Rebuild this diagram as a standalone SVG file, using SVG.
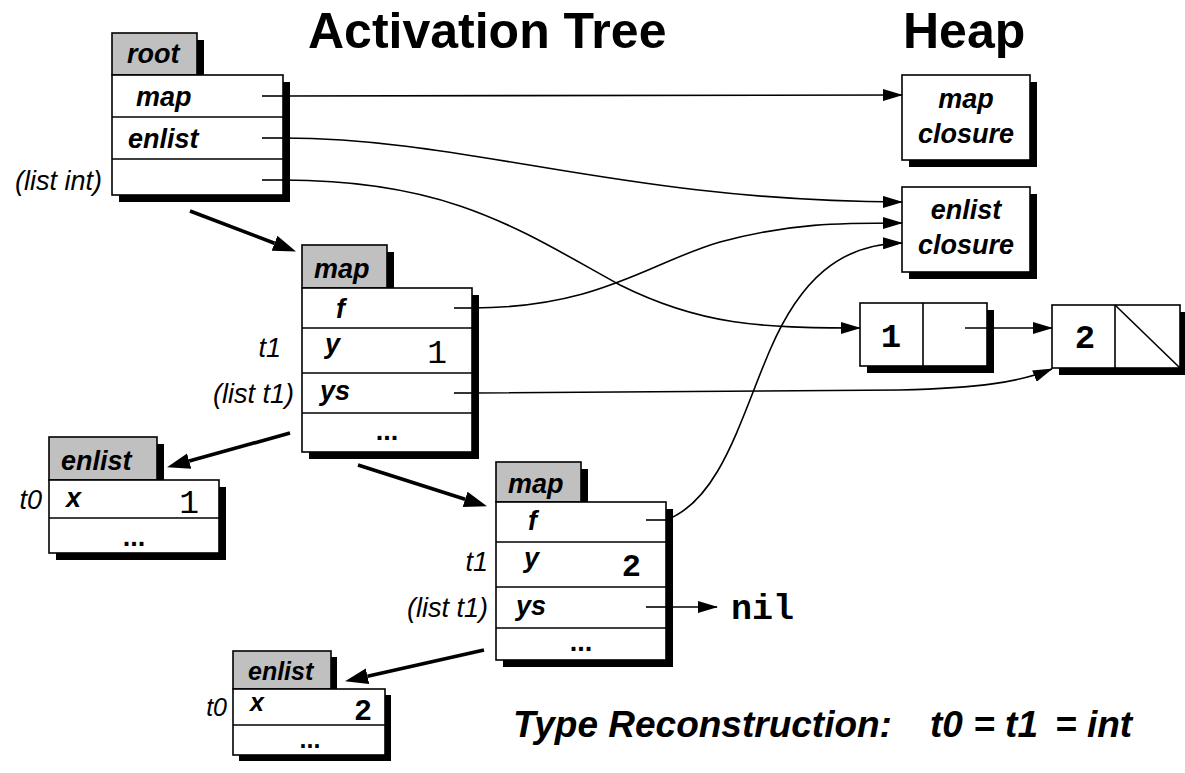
<svg xmlns="http://www.w3.org/2000/svg" width="1185" height="773" viewBox="0 0 1185 773">
<style>
.sh{fill:#000}
.tab{fill:#c0c0c0;stroke:#000;stroke-width:1.6}
.box{fill:#fff;stroke:#000;stroke-width:1.6}
.ln{stroke:#000;stroke-width:1.6;fill:none}
.lbl{font-family:"Liberation Sans",Arial,sans-serif;font-weight:bold;font-style:italic;font-size:27px;fill:#000}
.typ{font-family:"Liberation Sans",Arial,sans-serif;font-style:italic;font-size:27px;fill:#000}
.num{font-family:"Liberation Mono","Courier New",monospace;font-size:33px;fill:#000}
.numb{font-family:"Liberation Mono","Courier New",monospace;font-weight:bold;font-size:32px;fill:#000}
.dots{font-family:"Liberation Sans",Arial,sans-serif;font-weight:bold;font-size:27px;fill:#000}
.title{font-family:"Liberation Sans",Arial,sans-serif;font-weight:bold;font-size:50px;fill:#000}
.foot{font-family:"Liberation Sans",Arial,sans-serif;font-weight:bold;font-style:italic;font-size:37px;fill:#000}
.conn{stroke:#000;stroke-width:1.6;fill:none;marker-end:url(#ah)}
.thick{stroke:#000;stroke-width:3.6;fill:none;marker-end:url(#ahb)}
</style>
<defs>
<marker id="ah" markerUnits="userSpaceOnUse" markerWidth="20" markerHeight="12" viewBox="0 0 20 12" refX="19" refY="6" orient="auto">
<path d="M0,0 L20,6 L0,12 z" fill="#000"/>
</marker>
<marker id="ahb" markerUnits="userSpaceOnUse" markerWidth="24" markerHeight="18" viewBox="0 -9 24 18" refX="0" refY="0" orient="auto">
<path d="M0,-8 L23,0 L0,8 z" fill="#000"/>
</marker>
</defs>
<rect width="1185" height="773" fill="#fff"/>

<text class="title" x="308" y="48">Activation Tree</text>
<text class="title" x="903" y="48">Heap</text>

<g id="root">
<rect class="sh" x="119" y="40" width="85" height="42"/>
<rect class="tab" x="112" y="33" width="85" height="42"/>
<rect class="sh" x="119" y="82" width="171" height="120"/>
<rect class="box" x="112" y="75" width="171" height="120"/>
<line class="ln" x1="112" y1="117" x2="283" y2="117"/>
<line class="ln" x1="112" y1="159" x2="283" y2="159"/>
<text class="lbl" x="127" y="63">root</text>
<text class="lbl" x="136" y="106">map</text>
<text class="lbl" x="128" y="148">enlist</text>
<text class="typ" x="102" y="190" text-anchor="end">(list int)</text>
<line class="ln" x1="262" y1="96" x2="283" y2="96"/>
<line class="ln" x1="262" y1="138" x2="283" y2="138"/>
<line class="ln" x1="262" y1="180" x2="283" y2="180"/>
</g>

<g id="map1">
<rect class="sh" x="309" y="252" width="85" height="43"/>
<rect class="tab" x="302" y="245" width="85" height="43"/>
<rect class="sh" x="309" y="295" width="170" height="164"/>
<rect class="box" x="302" y="288" width="170" height="164"/>
<line class="ln" x1="302" y1="328" x2="472" y2="328"/>
<line class="ln" x1="302" y1="373" x2="472" y2="373"/>
<line class="ln" x1="302" y1="413" x2="472" y2="413"/>
<text class="lbl" x="314" y="278">map</text>
<text class="lbl" x="336" y="318">f</text>
<text class="lbl" x="325" y="353">y</text>
<text class="num" x="447" y="363" text-anchor="end">1</text>
<text class="lbl" x="320" y="400">ys</text>
<text class="dots" x="387" y="440" text-anchor="middle">...</text>
<text class="typ" x="281" y="357" text-anchor="end">t1</text>
<text class="typ" x="294" y="403" text-anchor="end">(list t1)</text>
<line class="ln" x1="454" y1="308" x2="472" y2="308"/>
<line class="ln" x1="454" y1="393" x2="472" y2="393"/>
</g>

<g id="enlist1">
<rect class="sh" x="56" y="444" width="108" height="43"/>
<rect class="tab" x="49" y="437" width="108" height="43"/>
<rect class="sh" x="56" y="487" width="170" height="73"/>
<rect class="box" x="49" y="480" width="170" height="73"/>
<line class="ln" x1="49" y1="518" x2="219" y2="518"/>
<text class="lbl" x="61" y="470">enlist</text>
<text class="lbl" x="66" y="507">x</text>
<text class="num" x="199" y="513" text-anchor="end">1</text>
<text class="dots" x="134" y="546" text-anchor="middle">...</text>
<text class="typ" x="42" y="509" text-anchor="end">t0</text>
</g>

<g id="map2">
<rect class="sh" x="503" y="469" width="85" height="40"/>
<rect class="tab" x="496" y="462" width="85" height="40"/>
<rect class="sh" x="503" y="509" width="170" height="158"/>
<rect class="box" x="496" y="502" width="170" height="158"/>
<line class="ln" x1="496" y1="542" x2="666" y2="542"/>
<line class="ln" x1="496" y1="587" x2="666" y2="587"/>
<line class="ln" x1="496" y1="628" x2="666" y2="628"/>
<text class="lbl" x="508" y="493">map</text>
<text class="lbl" x="528" y="530">f</text>
<text class="lbl" x="524" y="567">y</text>
<text class="numb" x="641" y="576" text-anchor="end">2</text>
<text class="lbl" x="516" y="615">ys</text>
<text class="dots" x="581" y="651" text-anchor="middle">...</text>
<text class="typ" x="488" y="571" text-anchor="end">t1</text>
<text class="typ" x="488" y="617" text-anchor="end">(list t1)</text>
<line class="ln" x1="646" y1="520" x2="666" y2="520"/>
<line class="ln" x1="646" y1="607" x2="666" y2="607"/>
</g>

<g id="nil">
<text class="numb" x="731" y="619" style="font-size:35px">nil</text>
</g>

<g id="enlist2">
<rect class="sh" x="239" y="657" width="98" height="38"/>
<rect class="tab" x="233" y="651" width="98" height="38"/>
<rect class="sh" x="239" y="695" width="152" height="66"/>
<rect class="box" x="233" y="689" width="152" height="66"/>
<line class="ln" x1="233" y1="725" x2="385" y2="725"/>
<text class="lbl" x="248" y="680" style="font-size:25px">enlist</text>
<text class="lbl" x="250" y="711" style="font-size:25px">x</text>
<text class="numb" x="372" y="720" text-anchor="end" style="font-size:30px">2</text>
<text class="dots" x="310" y="748" text-anchor="middle" style="font-size:25px">...</text>
<text class="typ" x="227" y="716" text-anchor="end" style="font-size:25px">t0</text>
</g>

<g id="mapclosure">
<rect class="sh" x="909" y="82" width="128" height="85"/>
<rect class="box" x="902" y="75" width="128" height="85"/>
<text class="lbl" x="966" y="108" text-anchor="middle">map</text>
<text class="lbl" x="966" y="143" text-anchor="middle">closure</text>
</g>

<g id="enlistclosure">
<rect class="sh" x="909" y="194" width="128" height="85"/>
<rect class="box" x="902" y="187" width="128" height="85"/>
<text class="lbl" x="966" y="219" text-anchor="middle">enlist</text>
<text class="lbl" x="966" y="254" text-anchor="middle">closure</text>
</g>

<g id="cell1">
<rect class="sh" x="867" y="310" width="127" height="63"/>
<rect class="box" x="860" y="303" width="127" height="63"/>
<line class="ln" x1="923" y1="303" x2="923" y2="366"/>
<text class="numb" x="891" y="347" text-anchor="middle" style="font-size:34px">1</text>
</g>

<g id="cell2">
<rect class="sh" x="1059" y="312" width="128" height="63"/>
<rect class="box" x="1052" y="305" width="128" height="63"/>
<line class="ln" x1="1115" y1="305" x2="1115" y2="368"/>
<line class="ln" x1="1115" y1="305" x2="1180" y2="368"/>
<text class="numb" x="1085" y="348" text-anchor="middle" style="font-size:34px">2</text>
</g>

<g id="connectors">
<path class="conn" d="M283,96 L902,95"/>
<path class="conn" d="M283,138 C470,138 620,201 902,202"/>
<path class="conn" d="M283,180 C450,180 520,230 620,285 C700,325 760,328 860,328"/>
<path class="conn" d="M472,308 C600,308 650,262 720,242 C790,223 840,223 902,223"/>
<path class="conn" d="M666,520 C720,500 740,420 770,350 C800,280 840,244 902,243"/>
<path class="conn" d="M472,393 L900,390 C980,388 1020,382 1052,369"/>
<path class="conn" d="M965,328 L1052,328"/>
<path class="conn" d="M666,607 L717,607"/>
<path class="thick" d="M190,211 L274.5,243.2"/>
<path class="thick" d="M290,433 L189.2,461.1"/>
<path class="thick" d="M358,465 L465.1,499.3"/>
<path class="thick" d="M484,650 L367.5,676.2"/>
</g>

<text class="foot" x="513" y="737">Type Reconstruction:</text>
<text class="foot" x="930" y="737">t0 = t1</text>
<text class="foot" x="1055" y="737">= int</text>
</svg>
